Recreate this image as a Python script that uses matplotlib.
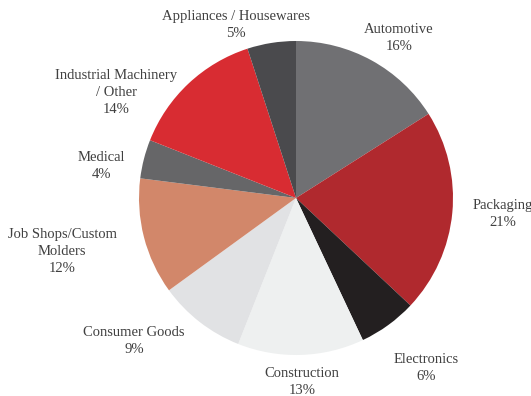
import matplotlib.pyplot as plt

segments = [
    "Automotive",
    "Packaging",
    "Electronics",
    "Construction",
    "Consumer Goods",
    "Job Shops/Custom\nMolders",
    "Medical",
    "Industrial Machinery\n/ Other",
    "Appliances / Housewares",
]
shares = [16, 21, 6, 13, 9, 12, 4, 14, 5]
colors = ["#707073", "#b0292e", "#231f20", "#eef0f0", "#e1e2e4",
          "#d2876a", "#666668", "#d82c32", "#4a4a4d"]

# label centres, in units of the pie radius (pie centred at 0, 0)
label_xy = [(0.656, 1.019), (1.318, -0.102), (0.828, -1.083),
            (0.038, -1.172), (-1.032, -0.911), (-1.490, -0.338),
            (-1.242, 0.204), (-1.146, 0.675), (-0.382, 1.105)]

fig = plt.figure(figsize=(5.31, 3.96), dpi=100)
ax = fig.add_axes([0, 0, 1, 1])

ax.pie(shares, colors=colors, startangle=90, counterclock=False,
       radius=1.0, wedgeprops=dict(linewidth=0))

for name, val, (x, y) in zip(segments, shares, label_xy):
    ax.text(x, y, f"{name}\n{val}%", ha="center", va="center",
            multialignment="center", fontsize=10.5,
            family="Liberation Serif", color="#404040", linespacing=1.4)

# 1 data unit = 157 px, pie centre at (296, 198) px
ax.set_xlim(-296 / 157, (531 - 296) / 157)
ax.set_ylim(-198 / 157, 198 / 157)
ax.set_aspect("auto")
ax.axis("off")

fig.savefig("out.png", dpi=100)
